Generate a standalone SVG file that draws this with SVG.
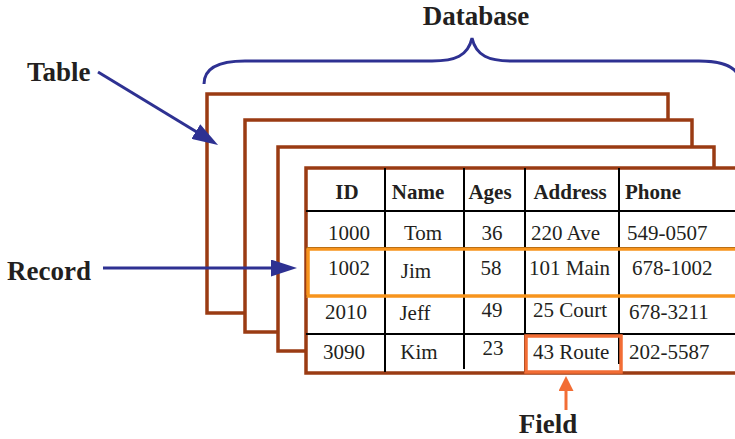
<svg xmlns="http://www.w3.org/2000/svg" width="735" height="439" viewBox="0 0 735 439">
  <style>
    .label { font-family: "Liberation Serif", "Times New Roman", serif; font-weight: bold; font-size: 27px; fill: #231f20; }
    .head { font-family: "Liberation Serif", "Times New Roman", serif; font-weight: bold; font-size: 21px; fill: #231f20; }
    .cell { font-family: "Liberation Serif", "Times New Roman", serif; font-size: 21px; fill: #231f20; }
    .frame { fill: #ffffff; stroke: #9a3b13; stroke-width: 3.5; }
    .grid { stroke: #000000; stroke-width: 2; fill: none; }
    .blue { stroke: #2e3192; stroke-width: 3; fill: none; }
  </style>
  <defs>
    <marker id="head-blue" markerUnits="userSpaceOnUse" markerWidth="27" markerHeight="17" refX="16" refY="8.5" orient="auto">
      <path d="M0,0 L26,8.5 L0,17 Z" fill="#2e3192"/>
    </marker>
    <marker id="head-orange" markerUnits="userSpaceOnUse" markerWidth="16" markerHeight="15" refX="8" refY="7.5" orient="auto">
      <path d="M0,0 L15,7.5 L0,15 Z" fill="#f26d35"/>
    </marker>
  </defs>

  <!-- Database brace -->
  <g id="database">
    <path class="blue" stroke-width="3.5" d="M204,84 C204,68 218,61 245,61 L432,61 C455,61 468,56 472,38 C476,56 489,61 512,61 L699,61 C726,61 740,68 740,84"/>
    <text class="label" x="476" y="25" text-anchor="middle">Database</text>
  </g>

  <!-- Stacked tables -->
  <g id="table-stack">
    <rect class="frame" x="207" y="94" width="461" height="219"/>
    <rect class="frame" x="245" y="120" width="447" height="212"/>
    <rect class="frame" x="278" y="147" width="436" height="204"/>
  </g>

  <!-- Front table -->
  <g id="table">
    <rect class="frame" x="306" y="168" width="440" height="205"/>
    <line class="grid" x1="306" y1="211" x2="735" y2="211"/>
    <line class="grid" x1="306" y1="248" x2="735" y2="248"/>
    <line class="grid" x1="306" y1="296" x2="735" y2="296"/>
    <line class="grid" x1="306" y1="334" x2="735" y2="334"/>
    <line class="grid" x1="385" y1="168" x2="385" y2="372"/>
    <line class="grid" x1="464" y1="168" x2="464" y2="369"/>
    <line class="grid" x1="525" y1="168" x2="525" y2="372"/>
    <line class="grid" x1="619" y1="168" x2="619" y2="364"/>

    <text class="head" x="347" y="199" text-anchor="middle">ID</text>
    <text class="head" x="418" y="199" text-anchor="middle">Name</text>
    <text class="head" x="490" y="199" text-anchor="middle">Ages</text>
    <text class="head" x="570" y="199" text-anchor="middle">Address</text>
    <text class="head" x="625" y="199">Phone</text>

    <text class="cell" x="349" y="240" text-anchor="middle">1000</text>
    <text class="cell" x="423" y="240" text-anchor="middle">Tom</text>
    <text class="cell" x="492" y="240" text-anchor="middle">36</text>
    <text class="cell" x="531" y="240">220 Ave</text>
    <text class="cell" x="627" y="240">549-0507</text>

    <text class="cell" x="349" y="275" text-anchor="middle">1002</text>
    <text class="cell" x="416" y="278" text-anchor="middle">Jim</text>
    <text class="cell" x="491" y="275" text-anchor="middle">58</text>
    <text class="cell" x="529" y="275">101 Main</text>
    <text class="cell" x="632" y="275">678-1002</text>

    <text class="cell" x="346" y="319" text-anchor="middle">2010</text>
    <text class="cell" x="415" y="320" text-anchor="middle">Jeff</text>
    <text class="cell" x="492" y="317" text-anchor="middle">49</text>
    <text class="cell" x="533" y="317">25 Court</text>
    <text class="cell" x="629" y="319">678-3211</text>

    <text class="cell" x="344" y="359" text-anchor="middle">3090</text>
    <text class="cell" x="419" y="359" text-anchor="middle">Kim</text>
    <text class="cell" x="493" y="355" text-anchor="middle">23</text>
    <text class="cell" x="533" y="359">43 Route</text>
    <text class="cell" x="629" y="359">202-5587</text>
  </g>

  <!-- Highlighted record row -->
  <g id="record-box">
    <rect x="308" y="249" width="440" height="47" fill="none" stroke="#f7941d" stroke-width="3.5"/>
  </g>

  <!-- Highlighted field cell -->
  <g id="field-box">
    <rect x="526" y="336" width="95" height="36" fill="none" stroke="#f26d35" stroke-width="3.5"/>
  </g>

  <!-- Labels -->
  <g id="label-table">
    <text class="label" x="27" y="81">Table</text>
  </g>
  <g id="label-record">
    <text class="label" x="7" y="280">Record</text>
  </g>
  <g id="label-field">
    <text class="label" x="548" y="433" text-anchor="middle">Field</text>
  </g>

  <!-- Pointers -->
  <g id="connectors">
    <line class="blue" x1="98" y1="72" x2="209.5" y2="139.8" marker-end="url(#head-blue)"/>
    <line class="blue" x1="103" y1="268" x2="287" y2="268" marker-end="url(#head-blue)"/>
    <line x1="566" y1="410" x2="566" y2="383" stroke="#f26d35" stroke-width="3" marker-end="url(#head-orange)"/>
  </g>
</svg>
